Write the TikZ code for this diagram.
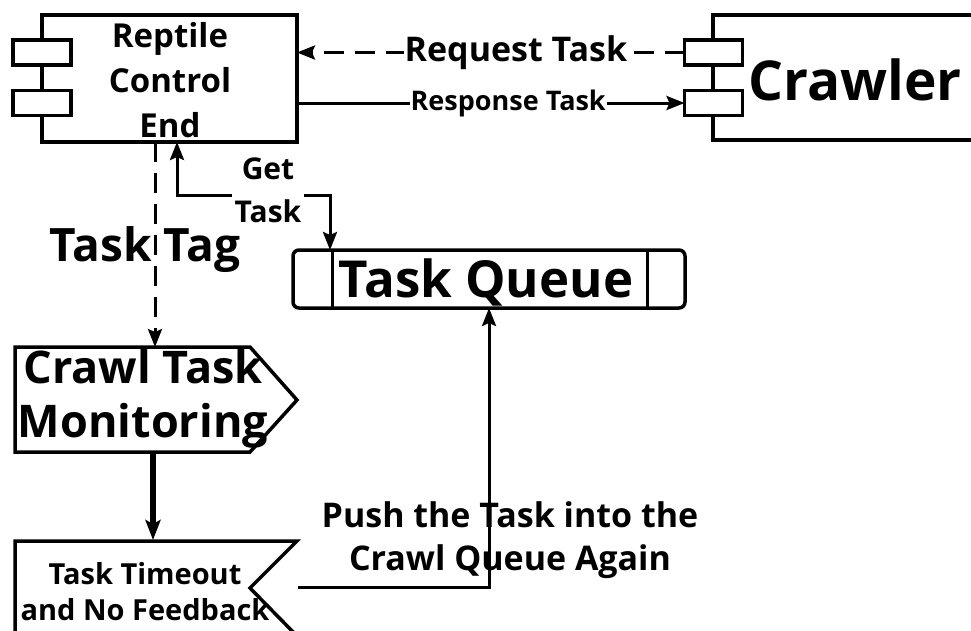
\documentclass[tikz,border=0pt]{standalone}
\usepackage{fontspec}
\setmainfont{Open Sans}
\usetikzlibrary{arrows.meta}
\newcommand\fs[2]{\bfseries\fontsize{#1}{#2}\selectfont}
\begin{document}
\begin{tikzpicture}[x=1pt,y=-1pt,>={Stealth[length=18pt,width=14pt,inset=3pt]},
    box/.style={draw,line width=3.5pt,inner sep=0pt,outer sep=0pt},
    port/.style={box,fill=white,minimum width=58pt,minimum height=25pt},
    lbl/.style={align=center,inner sep=3pt},
    link/.style={line width=3pt},
    dashlink/.style={link,dash pattern=on 20pt off 11pt}]
\useasboundingbox (0,0) rectangle (971,630);
% components
\node[box,minimum width=255pt,minimum height=127pt] (rce) at (169.5,78.5) {};
\node[box,minimum width=270pt,minimum height=125pt,anchor=north west] (crw) at (713,15) {};
\foreach \n/\x in {rce/42,crw/713.5}
{
    \node[port] (\n a) at (\x,52.5) {};
    \node[port] (\n b) at (\x,103) {};
}
\node[lbl,font=\fs{33}{45}] (rcetxt) at (170,80) {Reptile\\Control\\End};
\node[lbl,font=\fs{55}{60}] (crwtxt) at (855,80) {Crawler};
% task queue
\node[box,rounded corners=6pt,minimum width=392pt,minimum height=58pt] (tq) at (489,279) {};
\draw[link] ([xshift=39pt]tq.north west) -- ([xshift=39pt]tq.south west);
\draw[link] ([xshift=-38pt]tq.north east) -- ([xshift=-38pt]tq.south east);
\node[lbl,font=\fs{51}{55}] (tqtxt) at (486,282) {Task Queue};
% monitoring and timeout
\draw[box,line join=miter] (15,347) coordinate (ctmnw) -- (250,347) -- (297,400) -- (250,452) -- (15,452) -- cycle;
\coordinate (ctmn) at (155,347);
\coordinate (ctms) at (153,452);
\node[lbl,font=\fs{45}{54}] (ctm) at (143,399) {Crawl Task\\Monitoring};
\draw[box,line join=miter] (297,636) -- (250,588) -- (297,541) -- (15,541) -- (15,640);
\coordinate (tton) at (153,540);
\coordinate (ttoe) at (298,587);
\node[lbl,font=\fs{29}{36}] (tto) at (145,592) {Task Timeout\\and No Feedback};
% connectors
\draw[dashlink,->] (crwa.west) -- (rce.east |- crwa.west)
    node[pos=0.435,fill=white,font=\fs{34}{36},inner sep=1pt]{Request Task};
\draw[link,->] (rce.east |- crwb.west) -- (crwb.west)
    node[pos=0.545,fill=white,font=\fs{27}{30},inner sep=1pt]{Response Task};
\draw[dashlink,->] (rce.south -| ctmn) -- (ctmn);
\node[lbl,font=\fs{46}{50}] (tag) at (145,250) {Task Tag};
\draw[link,<->] ([xshift=7.5pt]rce.south) -- ++(0,53) -| ([xshift=-159pt]tq.north);
\node[lbl,fill=white,font=\fs{30}{43}] (get) at (268,190) {Get\\Task};
\draw[line width=5.5pt,-{Stealth[length=20pt,width=15pt,inset=4pt]}] (ctms) -- (tton);
\draw[link,->] (ttoe) -| (tq.south);
\node[lbl,font=\fs{34}{43}] (push) at (510,540) {Push the Task into the\\Crawl Queue Again};
\end{tikzpicture}
\end{document}
